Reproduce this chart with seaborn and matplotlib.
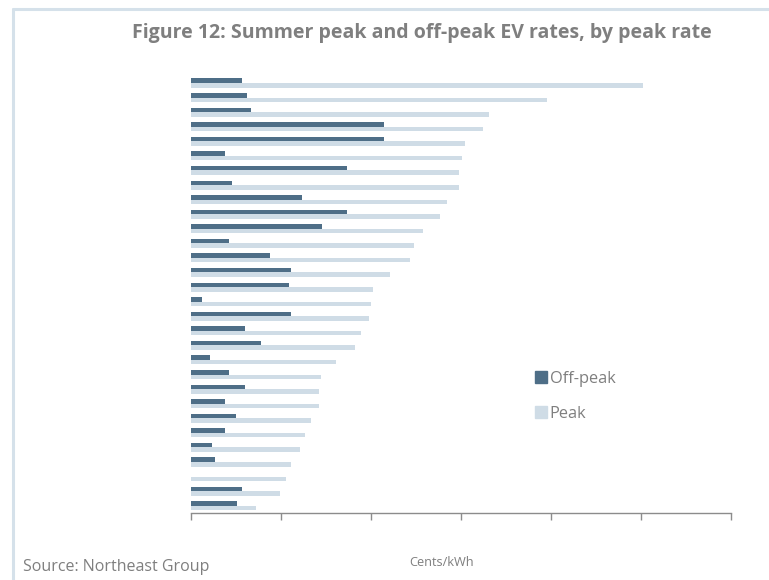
import matplotlib
matplotlib.use("Agg")
import matplotlib.pyplot as plt
import seaborn as sns
import pandas as pd
import numpy as np
from matplotlib.lines import Line2D

# Data (cents/kWh), ordered by peak rate, top to bottom
utilities = [f"U{i+1}" for i in range(30)]
off_peak = [5.7, 6.2, 6.7, 21.4, 21.4, 3.8, 17.3, 4.6, 12.3, 17.3,
            14.6, 4.2, 8.8, 11.1, 10.9, 1.2, 11.1, 6.0, 7.8, 2.1,
            4.2, 6.0, 3.8, 5.0, 3.8, 2.3, 2.7, 0.0, 5.7, 5.1]
peak = [50.2, 39.6, 33.1, 32.4, 30.4, 30.1, 29.8, 29.8, 28.4, 27.7,
        25.8, 24.8, 24.3, 22.1, 20.2, 20.0, 19.8, 18.9, 18.2, 16.1,
        14.4, 14.2, 14.2, 13.3, 12.7, 12.1, 11.1, 10.6, 9.9, 7.2]
series = ["Off-peak", "Peak"]
colors = ["#4e6e87", "#cfdce6"]

df = pd.DataFrame({
    "utility": utilities * 2,
    "rate": off_peak + peak,
    "type": [series[0]] * len(utilities) + [series[1]] * len(utilities),
})

sns.set_theme(style="white")
plt.rcParams["font.family"] = ["Open Sans", "DejaVu Sans"]

fig = plt.figure(figsize=(7.69, 5.8), dpi=100)
ax = fig.add_axes([191 / 769, 1 - 513 / 580, 540 / 769, (513 - 75.7) / 580])

sns.barplot(data=df, y="utility", x="rate", hue="type", hue_order=series,
            palette=colors, orient="h", width=0.62, dodge=True,
            saturation=1, errorbar=None, ax=ax, legend=False, linewidth=0)

ax.set_xlim(0, 60)
ax.set_ylim(29.5, -0.5)
ax.set_xticks(np.arange(0, 61, 10))
ax.set_xticklabels([])
ax.set_yticks([])
ax.set_ylabel("")
ax.set_xlabel("")
for s in ["top", "right", "left"]:
    ax.spines[s].set_visible(False)
ax.spines["bottom"].set_color("#8c8c8c")
ax.spines["bottom"].set_linewidth(1.0)
ax.tick_params(axis="x", direction="out", length=5, width=1, color="#8c8c8c", bottom=True)

# Legend
handles = [Line2D([0], [0], marker="s", linestyle="none", markersize=8,
                  markerfacecolor=c, markeredgecolor=c) for c in colors]
leg = fig.legend(handles, series, loc="upper left",
                 bbox_to_anchor=(530 / 769, 1 - 364 / 580), frameon=False,
                 handlelength=0.6, handletextpad=0.2, labelspacing=1.2,
                 fontsize=11.8, labelcolor="#7f7f7f", borderaxespad=0)

# Title, axis label, source
fig.text(422 / 769, 1 - 33 / 580, "Figure 12: Summer peak and off-peak EV rates, by peak rate",
         ha="center", va="center", fontsize=14, fontweight="bold", color="#7f7f7f")
fig.text(442 / 769, 1 - 563 / 580, "Cents/kWh", ha="center", va="center",
         fontsize=9.2, color="#7f7f7f")
fig.text(23 / 769, 1 - 567 / 580, "Source: Northeast Group", ha="left", va="center",
         fontsize=11.5, color="#7f7f7f")

# Frame lines (left and top)
border = "#d5e1ea"
fig.add_artist(Line2D([13 / 769, 13 / 769], [0, 1 - 9 / 580], color=border, lw=2.2,
                      transform=fig.transFigure))
fig.add_artist(Line2D([13 / 769, 1], [1 - 9 / 580, 1 - 9 / 580], color=border, lw=2.2,
                      transform=fig.transFigure))

fig.savefig("out.png", dpi=100)
